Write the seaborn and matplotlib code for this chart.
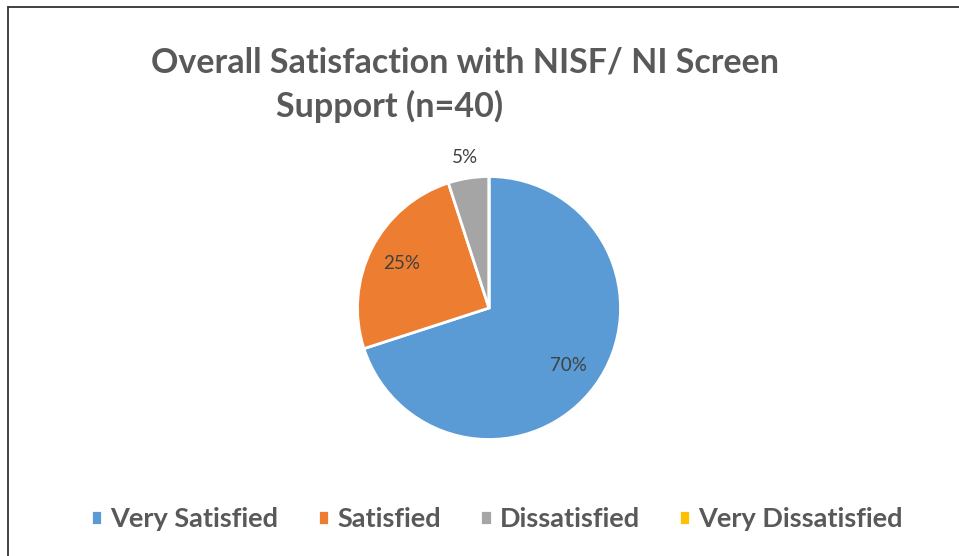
import matplotlib
matplotlib.use("Agg")
import matplotlib.pyplot as plt
import seaborn as sns
import numpy as np
from matplotlib.lines import Line2D

sns.set_theme(style="white")
plt.rcParams['font.family'] = ['Lato', 'DejaVu Sans']

categories = ["Very Satisfied", "Satisfied", "Dissatisfied", "Very Dissatisfied"]
values = [70, 25, 5, 0]
colors = ["#5B9BD5", "#ED7D31", "#A5A5A5", "#FFC000"]
title_lines = ["Overall Satisfaction with NISF/ NI Screen", "Support (n=40)"]

W, H = 959, 556
fig = plt.figure(figsize=(W / 100, H / 100), dpi=100)
fig.patch.set_facecolor("white")

cx, cy, r = 489, 308, 131.5
ax = fig.add_axes([(cx - r) / W, (H - cy - r) / H, 2 * r / W, 2 * r / H])

def fmt(p):
    return f"{p:.0f}%" if p > 0.5 else ""

wedges, texts, autotexts = ax.pie(
    values, colors=colors, startangle=90, counterclock=False,
    autopct=fmt, pctdistance=0.75,
    wedgeprops=dict(edgecolor="white", linewidth=2),
    textprops=dict(color="#404040", fontsize=13.5),
)
# small slice label placed outside
for w, t, v in zip(wedges, autotexts, values):
    if 0 < v < 10:
        ang = np.deg2rad((w.theta1 + w.theta2) / 2)
        t.set_position((1.16 * np.cos(ang), 1.16 * np.sin(ang)))
ax.set_xlim(-1, 1)
ax.set_ylim(-1, 1)
ax.axis("off")

fig.text(465 / W, 1 - 63 / H, title_lines[0], ha="center", va="center",
         fontsize=24.5, fontweight="bold", color="#595959")
fig.text(390 / W, 1 - 106 / H, title_lines[1], ha="center", va="center",
         fontsize=24.5, fontweight="bold", color="#595959")

leg = fig.legend(wedges, categories, loc="center", bbox_to_anchor=(497 / W, 1 - 519 / H),
                 ncol=4, frameon=False, handlelength=0.42, handleheight=0.5,
                 handletextpad=0.3, columnspacing=1.45,
                 prop=dict(size=19.5, weight="bold"))
for t in leg.get_texts():
    t.set_color("#595959")

# border lines (top & left)
fig.add_artist(Line2D([8 / W, 1], [1 - 7 / H, 1 - 7 / H], transform=fig.transFigure,
                      color="#333333", linewidth=1.3))
fig.add_artist(Line2D([8 / W, 8 / W], [0, 1 - 7 / H], transform=fig.transFigure,
                      color="#333333", linewidth=1.3))

fig.savefig("out.png", dpi=100, facecolor="white")
